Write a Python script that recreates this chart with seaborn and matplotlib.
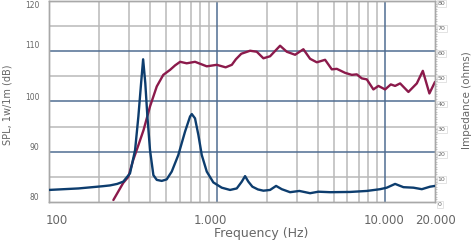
import numpy as np
import pandas as pd
import matplotlib
matplotlib.use("Agg")
import matplotlib.pyplot as plt
import matplotlib.transforms as mtransforms
from matplotlib import font_manager
import seaborn as sns

# ---- data ----
spl_freq = [242, 277, 297, 318, 341, 366, 400, 439, 480, 527, 565, 605, 662, 742, 872,
            1000, 1130, 1230, 1300, 1400, 1580, 1732, 1897, 2079, 2385, 2615, 2931,
            3284, 3601, 3949, 4424, 4851, 5195, 5824, 6384, 6836, 7322, 7844, 8585,
            9196, 10083, 10904, 11567, 12390, 13884, 15581, 16920, 18520, 20000]
spl_db = [80.4, 83.8, 85.0, 88.4, 91.3, 94.3, 99.0, 103.0, 105.3, 106.3, 107.2, 107.9, 107.6, 107.9, 107.0,
          107.3, 106.8, 107.3, 108.4, 109.5, 110.1, 109.9, 108.6, 109.0, 111.1, 109.9, 109.3,
          110.4, 108.5, 107.8, 108.3, 106.4, 106.5, 105.7, 105.3, 105.4, 104.6, 104.4, 102.4,
          103.1, 102.4, 103.4, 103.1, 103.6, 101.9, 103.6, 106.1, 101.6, 103.9]

imp_freq = [100, 150, 188, 210, 231, 255, 277, 304, 326, 341, 354, 364, 375, 386, 400, 419,
            439, 470, 503, 539, 590, 647, 693, 710, 742, 777, 814, 872, 954, 1071,
            1200, 1316, 1410, 1475, 1543, 1631, 1760, 1897, 2079, 2258, 2441, 2736,
            3109, 3601, 4036, 4739, 6235, 7844, 9416, 10320, 11567, 12965, 14870,
            16690, 18700, 20000]
imp_ohm = [4.8, 5.4, 6.0, 6.3, 6.6, 7.2, 8.1, 11.4, 20.7, 34.0, 47.3, 56.8, 47.3, 34.0, 20.7, 10.7,
           8.8, 8.4, 9.0, 12.1, 18.7, 28.0, 34.0, 35.0, 33.3, 26.7, 18.7, 12.1, 7.8, 5.7,
           4.8, 5.4, 8.1, 10.3, 8.1, 6.1, 5.0, 4.5, 4.8, 6.4, 5.1, 3.9,
           4.4, 3.5, 4.1, 3.9, 4.0, 4.4, 5.1, 5.7, 7.2, 5.9, 5.7,
           5.1, 6.1, 6.4]

x_ticks = [100, 1000, 10000, 20000]
x_ticklabels = ["100", "1.000", "10.000", "20.000"]
spl_ticks = [80, 90, 100, 110, 120]
imp_ticks = [0, 10, 20, 30, 40, 50, 60, 70, 80]

spl_df = pd.DataFrame({"freq": spl_freq, "spl": spl_db})
imp_df = pd.DataFrame({"freq": imp_freq, "imp": imp_ohm})

# ---- style ----
sns.set_style("white")
avail = {f.name for f in font_manager.fontManager.ttflist}
fam = "Liberation Sans Narrow" if "Liberation Sans Narrow" in avail else "DejaVu Sans"
plt.rcParams["font.family"] = [fam, "DejaVu Sans"]

RED = "#8b1a4b"
BLUE = "#0d3d6e"
GRID = "#b9b9b9"
GRIDB = "#4f6d92"
TXT = "#666666"

fig = plt.figure(figsize=(4.75, 2.41), dpi=100)
ax = fig.add_axes([49 / 475, 39 / 241, 386 / 475, 201 / 241])
ax2 = ax.twinx()

ax.set_xscale("log")
ax.set_xlim(100, 20000)
ax.set_ylim(80, 120)
ax2.set_ylim(0, 80)

# grid lines
for f in list(range(200, 1000, 100)) + list(range(2000, 10000, 1000)):
    ax.axvline(f, color=GRID, lw=1.1, zorder=0)
for f in [1000, 10000]:
    ax.axvline(f, color=GRIDB, lw=1.1, zorder=0.5)
for v in [85, 95, 105, 115]:
    ax.axhline(v, color=GRID, lw=1.1, zorder=0)
for v in [90, 100, 110]:
    ax.axhline(v, color=GRIDB, lw=1.1, zorder=0.5)

sns.lineplot(data=imp_df, x="freq", y="imp", ax=ax2, color=BLUE, lw=1.7, zorder=3)
sns.lineplot(data=spl_df, x="freq", y="spl", ax=ax, color=RED, lw=1.7, zorder=3)
ax2.set_xscale("log")
ax2.set_xlim(100, 20000)
for ln in ax.lines + ax2.lines:
    ln.set_solid_joinstyle("round")
    ln.set_solid_capstyle("round")

for a in (ax, ax2):
    for s in a.spines.values():
        s.set_color("#a8a8a8")
        s.set_linewidth(1.0)

ax.set_xticks(x_ticks)
ax.set_xticklabels(x_ticklabels)
ax.xaxis.set_minor_locator(matplotlib.ticker.NullLocator())
ax.tick_params(axis="x", length=0, pad=9, labelsize=8.5, labelcolor=TXT)
for lab, dx in zip(ax.get_xticklabels(), [8, -6, 0, 0]):
    lab.set_transform(lab.get_transform() + mtransforms.ScaledTranslation(dx / 100, 0, fig.dpi_scale_trans))

ax.set_yticks(spl_ticks)
ax.tick_params(axis="y", length=0, pad=7, labelsize=5.5, labelcolor=TXT)
for lab, dy in zip(ax.get_yticklabels(), [5, 5, 5, 7, -4]):
    lab.set_transform(lab.get_transform() + mtransforms.ScaledTranslation(0, dy / 100, fig.dpi_scale_trans))

ax2.set_yticks(imp_ticks)
ax2.yaxis.set_minor_locator(matplotlib.ticker.MultipleLocator(1))
ax2.tick_params(axis="y", which="major", length=0, pad=2, labelsize=4.5, labelcolor=TXT)
ax2.tick_params(axis="y", which="minor", length=1.5, width=0.5, color="#b0b0b0", right=True)
for lab in ax2.get_yticklabels():
    lab.set_bbox(dict(boxstyle="square,pad=0.15", fc="white", ec="#d8d8d8", lw=0.5))
    lab.set_transform(lab.get_transform() + mtransforms.ScaledTranslation(0, -2 / 100, fig.dpi_scale_trans))

ax.set_xlabel("")
ax.set_ylabel("")
ax2.set_ylabel("")
ax2.set_xlabel("")

fig.text(261 / 475, 1 - 233 / 241, "Frequency (Hz)", ha="center", va="center", fontsize=9, color=TXT)
fig.text(8 / 475, 1 - 105 / 241, "SPL, 1w/1m (dB)", rotation=90, ha="center", va="center", fontsize=7, color=TXT)
fig.text(467 / 475, 1 - 100 / 241, "Impedance (ohms)", rotation=90, ha="center", va="center", fontsize=7.5, color=TXT)

fig.savefig("out.png", dpi=100)
